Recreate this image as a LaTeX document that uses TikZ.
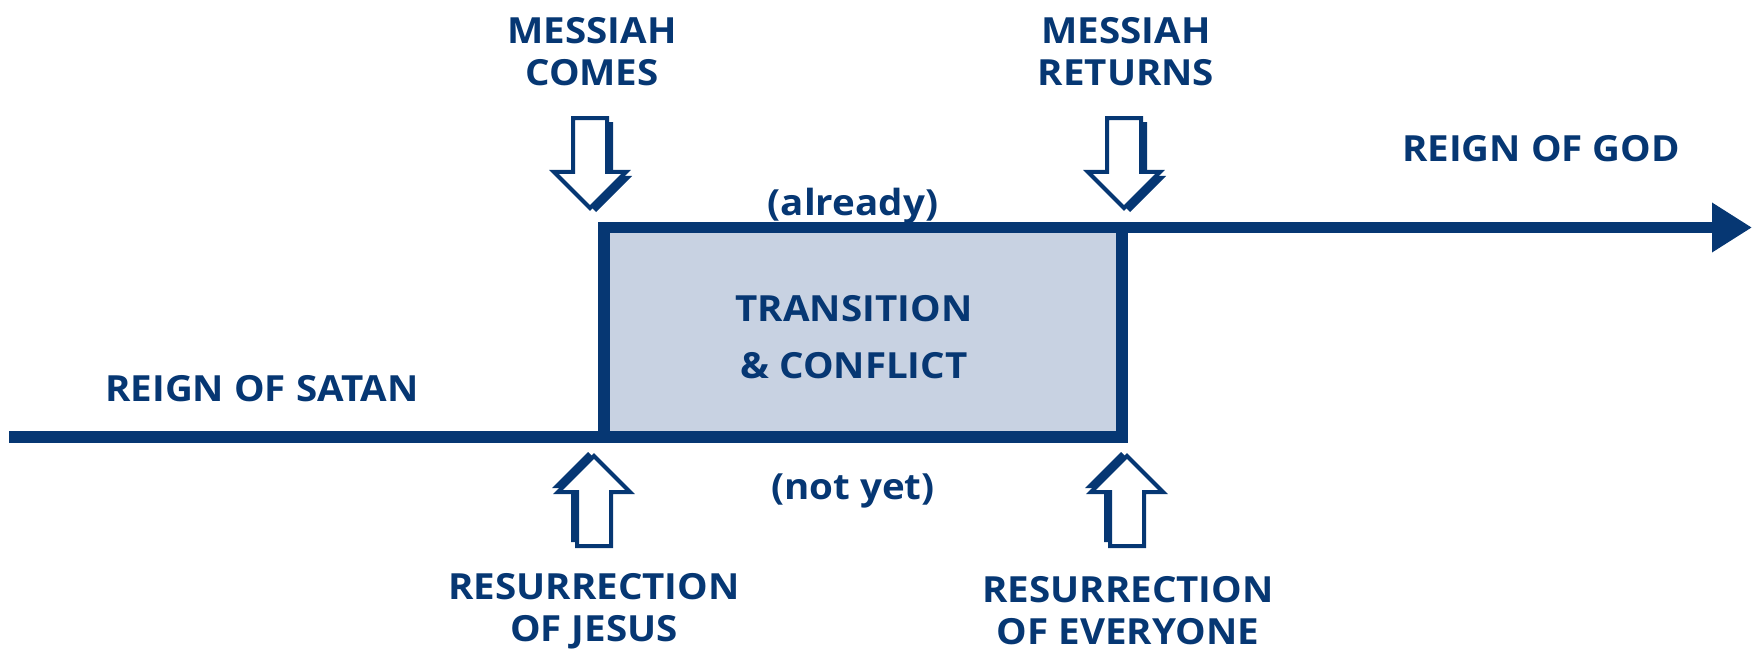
\documentclass[tikz,border=0pt]{standalone}
\usepackage{fontspec}
\setmainfont{Open Sans}[FakeStretch=1.07]
\usepackage{tikz}
\usetikzlibrary{arrows.meta, positioning, shapes.arrows, shadows}
\definecolor{reignnavy}{HTML}{063773}
\definecolor{transfill}{HTML}{C8D2E2}

\begin{document}
\begin{tikzpicture}[x=0.5pt, y=-0.5pt,
  labeltext/.style={font=\fontsize{18}{21}\selectfont\bfseries, text=reignnavy, align=center, inner sep=0pt},
  hollowarrow/.style={single arrow, draw=reignnavy, fill=white, line width=2pt, inner sep=7.5pt,
    minimum height=45pt, single arrow head extend=9.5pt, outer sep=0pt, anchor=tip},
  downarrow/.style={hollowarrow, shape border rotate=270,
    drop shadow={shadow xshift=3pt, shadow yshift=-2pt, fill=reignnavy, opacity=1}},
  uparrow/.style={hollowarrow, shape border rotate=90,
    drop shadow={shadow xshift=-3pt, shadow yshift=2pt, fill=reignnavy, opacity=1}},
  timeline/.style={line width=5.75pt, draw=reignnavy}]
  \useasboundingbox (0,0) rectangle (1753,653);

  % Transition box
  \node[timeline, fill=transfill, minimum width=259pt, minimum height=104.75pt, inner sep=0pt, outer sep=0pt] (transbox) at (863, 332.25) {};
  \node[labeltext, font=\fontsize{18}{28.5}\selectfont\bfseries] (transition) at (854, 337.5) {TRANSITION\\\& CONFLICT};

  % Timeline
  \coordinate (satanstart) at (9, 437);
  \coordinate (godend) at (1752, 227.5);
  \draw[timeline] (satanstart) -- (transbox.south east);
  \draw[timeline, -{Triangle[length=20pt, width=23.5pt]}] (transbox.north west) -- (godend);

  % Reigns
  \node[labeltext] (satan) at (262, 389) {REIGN OF SATAN};
  \node[labeltext] (god) at (1541, 149) {REIGN OF GOD};
  \node[labeltext, anchor=base] (already) at (853, 215.5) {(already)};
  \node[labeltext, anchor=base] (notyet) at (853, 499.5) {(not yet)};

  % Messiah arrows
  \node[labeltext] (comes) at (592, 52) {MESSIAH\\COMES};
  \node[labeltext] (returns) at (1126, 52) {MESSIAH\\RETURNS};
  \node[downarrow] (comesarrow) at (590, 208) {};
  \node[downarrow] (returnsarrow) at (1124, 208) {};

  % Resurrection arrows
  \node[uparrow] (jesusarrow) at (594, 456) {};
  \node[uparrow] (everyonearrow) at (1127, 456) {};
  \node[labeltext] (jesus) at (594, 611) {RESURRECTION\\OF JESUS};
  \node[labeltext] (everyone) at (1128, 611) {RESURRECTION\\OF EVERYONE};
\end{tikzpicture}
\end{document}
